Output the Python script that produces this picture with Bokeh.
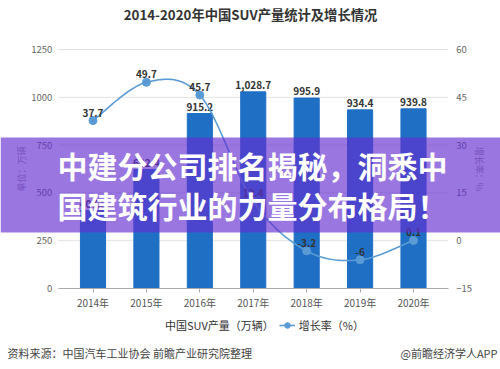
import numpy as np
from bokeh.plotting import figure
from bokeh.models import (ColumnDataSource, Range1d, LinearAxis, BoxAnnotation,
                          Label, Legend, LegendItem, FixedTicker)
from bokeh.embed import file_html
from bokeh.resources import INLINE
from bokeh.core.properties import value

# ---------------- data ----------------
years = ["2014年", "2015年", "2016年", "2017年", "2018年", "2019年", "2020年"]
production = [407.8, 622.4, 915.2, 1028.7, 995.9, 934.4, 939.8]
production_labels = ["407.8", "622.4", "915.2", "1,028.7", "995.9", "934.4", "939.8"]
growth = [37.7, 49.7, 45.7, 12.4, -3.2, -6.0, 0.1]
growth_labels = ["37.7", "49.7", "45.7", "12.4", "-3.2", "-6", "0.1"]
left_ticks = [0, 250, 500, 750, 1000, 1250]
right_ticks = [-15, 0, 15, 30, 45, 60]

title_text = "2014-2020年中国SUV产量统计及增长情况"
banner_lines = ["中建分公司排名揭秘，洞悉中", "国建筑行业的力量分布格局！"]
source_text = "资料来源：中国汽车工业协会 前瞻产业研究院整理"
brand_text = "@前瞻经济学人APP"
bar_name = "中国SUV产量（万辆）"
line_name = "增长率（%）"
left_title = "单位：万辆"
right_title = "增长率：%"

FONT = "Noto Sans CJK SC"
BAR_COLOR = "#1f6fc5"
LINE_COLOR = "#5b9bd5"

# ---------------- layout constants ----------------
W, H = 500, 369
X_START, X_END = -1.7317, 7.6286          # category index range spanning the canvas
Y_START, Y_END = -423.6, 1506.3           # production range spanning the canvas
R_START, R_END = -40.42, 75.38            # growth-rate range spanning the canvas
AX_LEFT, AX_RIGHT = -0.65, 6.65           # plot-area bounds in category units

idx = list(range(len(years)))
src = ColumnDataSource(dict(x=idx, prod=production, plab=production_labels,
                            rate=growth, rlab=growth_labels))

p = figure(width=W, height=H, x_range=Range1d(X_START, X_END), y_range=Range1d(Y_START, Y_END),
           x_axis_type=None, y_axis_type=None,
           output_backend="svg", toolbar_location=None,
           min_border=0, min_border_left=0, min_border_right=0, min_border_top=0, min_border_bottom=0)
p.outline_line_color = None
p.background_fill_color = "white"
p.border_fill_color = "white"
p.xgrid.visible = False
p.ygrid.visible = False
p.extra_y_ranges = {"rate": Range1d(R_START, R_END)}

# gridlines (at the left-axis ticks, limited to the plot area)
p.segment(x0=AX_LEFT, x1=AX_RIGHT, y0=left_ticks, y1=left_ticks, line_color="#e3e3e3", line_width=1)

# axes
la = LinearAxis(ticker=FixedTicker(ticks=left_ticks), fixed_location=AX_LEFT, bounds=(0, 1250),
                axis_label=left_title)
ra = LinearAxis(y_range_name="rate", ticker=FixedTicker(ticks=right_ticks), fixed_location=AX_RIGHT,
                bounds=(-15, 60), axis_label=right_title)
p.add_layout(la, "left")
p.add_layout(ra, "right")
for ax, st, ast in [(la, 0, 0), (ra, 2, -2)]:
    ax.axis_line_color = None
    ax.major_tick_line_color = None
    ax.minor_tick_line_color = None
    ax.major_label_text_color = "#666666"
    ax.major_label_text_font_size = "9.5px"
    ax.major_label_text_font = FONT
    ax.major_label_standoff = st
    ax.axis_label_text_font = FONT
    ax.axis_label_text_font_size = "9px"
    ax.axis_label_text_font_style = "normal"
    ax.axis_label_text_color = "#999999"
    ax.axis_label_standoff = ast

xa = LinearAxis(ticker=FixedTicker(ticks=idx), fixed_location=0, bounds=(AX_LEFT, AX_RIGHT),
                major_label_overrides={i: y for i, y in zip(idx, years)})
p.add_layout(xa, "below")
xa.axis_line_color = "#aaaaaa"
xa.major_tick_line_color = "#aaaaaa"
xa.minor_tick_line_color = None
xa.major_tick_in = 0
xa.major_tick_out = 4
xa.major_label_text_color = "#555555"
xa.major_label_text_font_size = "10px"
xa.major_label_text_font = FONT
xa.major_label_standoff = 2

# bars
p.vbar(x="x", top="prod", bottom=0, width=0.47, source=src, color=BAR_COLOR)
p.text(x="x", y="prod", text="plab", source=src, y_offset=-3,
       text_align="center", text_baseline="bottom", text_font_size="10px",
       text_font_style="bold", text_color="#333333", text_font=value(FONT))

# smooth growth line (Catmull-Rom through the data points)
pts = [np.array([float(x), float(y)]) for x, y in zip(idx, growth)]
P = [pts[0]] + pts + [pts[-1]]
cx, cy = [], []
for i in range(1, len(P) - 2):
    p0, p1, p2, p3 = P[i - 1], P[i], P[i + 1], P[i + 2]
    t = np.linspace(0, 1, 30)[:, None]
    c = 0.5 * (2 * p1 + (-p0 + p2) * t + (2 * p0 - 5 * p1 + 4 * p2 - p3) * t ** 2
               + (-p0 + 3 * p1 - 3 * p2 + p3) * t ** 3)
    cx.extend(c[:, 0]); cy.extend(c[:, 1])
line_r = p.line(cx, cy, y_range_name="rate", line_color=LINE_COLOR, line_width=1.6)
mark_r = p.scatter(x="x", y="rate", source=src, y_range_name="rate", size=8,
                   marker="circle", fill_color=LINE_COLOR, line_color=LINE_COLOR)
p.text(x="x", y="rate", text="rlab", source=src, y_range_name="rate", y_offset=-4,
       text_align="center", text_baseline="bottom", text_font_size="10px",
       text_font_style="bold", text_color="#333333", text_font=value(FONT))

# legend
dummy = p.scatter(x=[], y=[], marker="circle", size=11, fill_color=BAR_COLOR, line_color=BAR_COLOR)
leg = Legend(items=[LegendItem(label=bar_name, renderers=[dummy]),
                    LegendItem(label=line_name, renderers=[line_r, mark_r])],
             orientation="horizontal", location=(145, 36),
             label_text_font=FONT, label_text_font_size="11px", label_text_color="#333333",
             glyph_width=16, glyph_height=14, label_standoff=4, spacing=5,
             padding=0, margin=0, border_line_alpha=0, background_fill_alpha=0)
p.add_layout(leg)

# banner overlay
p.add_layout(BoxAnnotation(left=0, right=W, top=232, bottom=137,
                           left_units="screen", right_units="screen",
                           top_units="screen", bottom_units="screen",
                           fill_color="#642dd0", fill_alpha=0.65, line_color=None))
for txt, yy in zip(banner_lines, [205, 165]):
    p.add_layout(Label(x=252, y=yy, x_units="screen", y_units="screen", text=txt,
                       text_align="center", text_baseline="middle", text_font=FONT,
                       text_font_size="30px", text_font_style="bold", text_color="white"))

# title and footer
p.add_layout(Label(x=250, y=355, x_units="screen", y_units="screen", text=title_text,
                   text_align="center", text_baseline="middle", text_font=FONT,
                   text_font_size="13.3px", text_font_style="bold", text_color="#333333"))
p.add_layout(Label(x=7, y=17, x_units="screen", y_units="screen", text=source_text,
                   text_align="left", text_baseline="middle", text_font=FONT,
                   text_font_size="11px", text_color="#444444"))
p.add_layout(Label(x=497, y=17, x_units="screen", y_units="screen", text=brand_text,
                   text_align="right", text_baseline="middle", text_font=FONT,
                   text_font_size="11px", text_color="#444444"))

open("out.html", "w").write(file_html(p, INLINE))
